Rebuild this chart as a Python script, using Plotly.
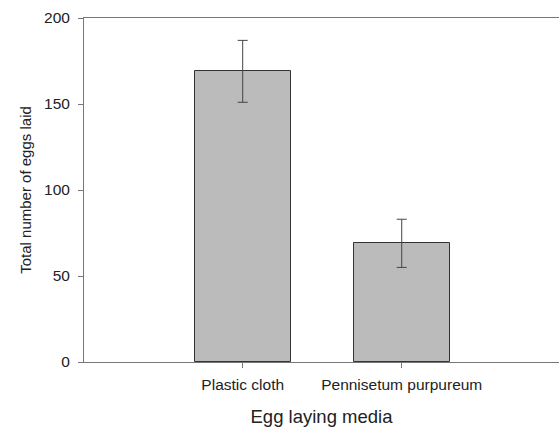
import plotly.graph_objects as go

categories = ["Plastic cloth", "Pennisetum purpureum"]
eggs_mean = [169, 69]
eggs_err = [18, 14]
y_ticks = [0, 50, 100, 150, 200]

fig = go.Figure()
fig.add_trace(go.Bar(
    x=[0, 1],
    y=eggs_mean,
    width=0.604,
    marker=dict(color="#bbbbbb", line=dict(color="#333333", width=1)),
    error_y=dict(type="data", array=eggs_err, visible=True,
                 color="#444444", thickness=1, width=5),
    showlegend=False,
))

font = "Liberation Sans, Arial, sans-serif"
fig.update_layout(
    width=559, height=427,
    margin=dict(l=84, r=0, t=18, b=65, pad=0),
    plot_bgcolor="white", paper_bgcolor="white",
    font=dict(family=font, size=15, color="#222222"),
    bargap=0,
    xaxis=dict(
        range=[-0.998, 1.989],
        tickmode="array", tickvals=[0, 1], ticktext=categories,
        ticks="outside", ticklen=5, tickcolor="#777777",
        showline=True, linecolor="#777777", linewidth=1, mirror=True,
        showgrid=False, zeroline=False,
        tickfont=dict(size=15.5),
        ticklabelstandoff=3,
        title=dict(text="Egg laying media", font=dict(size=18.5), standoff=19),
    ),
    yaxis=dict(
        range=[0, 200],
        tickmode="array", tickvals=y_ticks,
        ticks="outside", ticklen=5, tickcolor="#777777",
        showline=True, linecolor="#777777", linewidth=1,
        showgrid=False, zeroline=False,
        tickfont=dict(size=15.5),
        ticklabelstandoff=5,
        title=dict(text="Total number of eggs laid", font=dict(size=15), standoff=8),
    ),
)

fig.write_html(
    "out.html",
    config={"displayModeBar": False},
    post_script="document.body.style.margin='0';document.body.style.overflow='hidden';",
)
